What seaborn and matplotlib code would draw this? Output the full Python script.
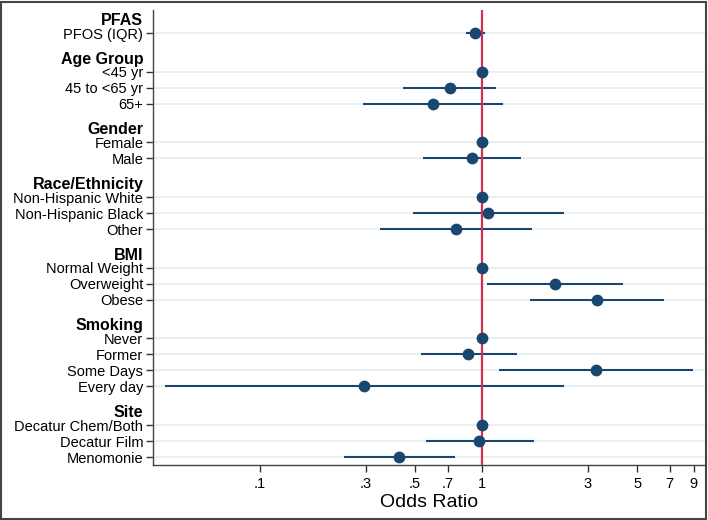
import numpy as np
import pandas as pd
import matplotlib
matplotlib.use("Agg")
import matplotlib.pyplot as plt
from matplotlib.patches import Rectangle
import seaborn as sns

# ---- data ----
groups = ["PFAS", "Age Group", "Gender", "Race/Ethnicity", "BMI", "Smoking", "Site"]
labels = [
    ["PFOS (IQR)"],
    ["<45 yr", "45 to <65 yr", "65+"],
    ["Female", "Male"],
    ["Non-Hispanic White", "Non-Hispanic Black", "Other"],
    ["Normal Weight", "Overweight", "Obese"],
    ["Never", "Former", "Some Days", "Every day"],
    ["Decatur Chem/Both", "Decatur Film", "Menomonie"],
]
odds_ratio = [0.93, 1.0, 0.715, 0.60, 1.0, 0.905, 1.0, 1.06, 0.76,
              1.0, 2.13, 3.29, 1.0, 0.868, 3.26, 0.294, 1.0, 0.97, 0.424]
ci_low = [0.847, 1.0, 0.442, 0.29, 1.0, 0.544, 1.0, 0.487, 0.346,
          1.0, 1.05, 1.64, 1.0, 0.53, 1.19, 0.0373, 1.0, 0.557, 0.239]
ci_high = [1.03, 1.0, 1.16, 1.25, 1.0, 1.50, 1.0, 2.33, 1.68,
           1.0, 4.30, 6.58, 1.0, 1.44, 8.9, 2.33, 1.0, 1.71, 0.758]
xticks = [0.1, 0.3, 0.5, 0.7, 1, 3, 5, 7, 9]
xtick_labels = [".1", ".3", ".5", ".7", "1", "3", "5", "7", "9"]

# ---- layout of rows ----
GAP = 2.42
HEAD_OFF = 0.875
ypos, header_pos, item_names, group_of = [], [], [], []
cur = 0.0
for gi, (g, labs) in enumerate(zip(groups, labels)):
    if gi > 0:
        cur += GAP - 1
    header_pos.append(cur - HEAD_OFF)
    for lab in labs:
        ypos.append(cur)
        item_names.append(lab)
        group_of.append(g)
        cur += 1
ypos = np.array(ypos)

df = pd.DataFrame({"label": item_names, "group": group_of, "y": ypos,
                   "or": odds_ratio, "lo": ci_low, "hi": ci_high})

sns.set_theme(style="white")
plt.rcParams["font.family"] = ["Liberation Sans", "DejaVu Sans"]
plt.rcParams["text.color"] = "black"
plt.rcParams["axes.labelcolor"] = "black"
plt.rcParams["xtick.color"] = "black"
plt.rcParams["ytick.color"] = "black"

navy = "#1a476f"
fig = plt.figure(figsize=(7.08, 5.20), dpi=100)
ax = fig.add_axes([153/708, 55/520, (705-153)/708, (465-10)/520])

# grid lines at item rows
for y in df["y"]:
    ax.axhline(y, color="#e8f0f3", lw=1.4, zorder=0)

ax.hlines(df["y"], df["lo"], df["hi"], color=navy, lw=1.5, zorder=2)
ax.axvline(1, color="#d42f50", lw=1.6, zorder=3)
sns.scatterplot(data=df, x="or", y="y", ax=ax, color=navy, s=72,
                edgecolor=navy, linewidth=0, zorder=4, legend=False)

ax.set_xscale("log")
ax.set_xlim(0.033, 10.1)
ax.set_ylim(ypos[-1] + 0.5, -1.44)

ax.tick_params(axis="y", length=5, width=1, color="#333333", pad=2, left=True,
               labelcolor="black")
ax.tick_params(axis="x", length=5, width=1, color="#333333", pad=4, bottom=True,
               labelcolor="black")

# y ticks: headers + items
all_pos = list(header_pos) + list(ypos)
all_lab = list(groups) + item_names
ax.set_yticks(all_pos)
ax.set_yticklabels(all_lab)
ng = len(groups)
for i, (t, lbl) in enumerate(zip(ax.yaxis.get_major_ticks(), ax.get_yticklabels())):
    if i < ng:
        t.tick1line.set_markersize(0)
        lbl.set_fontweight("bold")
        lbl.set_fontsize(11.5)
    else:
        lbl.set_fontsize(10.5)

ax.set_xticks(xticks)
ax.set_xticklabels(xtick_labels, fontsize=10.5)
ax.xaxis.set_minor_locator(matplotlib.ticker.NullLocator())

ax.set_xlabel("Odds Ratio", fontsize=14, labelpad=2, color="black")
ax.set_ylabel("")

for s in ["top", "right"]:
    ax.spines[s].set_visible(False)
for s in ["left", "bottom"]:
    ax.spines[s].set_color("#444444")
    ax.spines[s].set_linewidth(1)

fig.patches.append(Rectangle((0.0015, 0.002), 0.996, 0.995, transform=fig.transFigure,
                             fill=False, edgecolor="#444444", lw=1.5))

fig.savefig("out.png", dpi=100)
